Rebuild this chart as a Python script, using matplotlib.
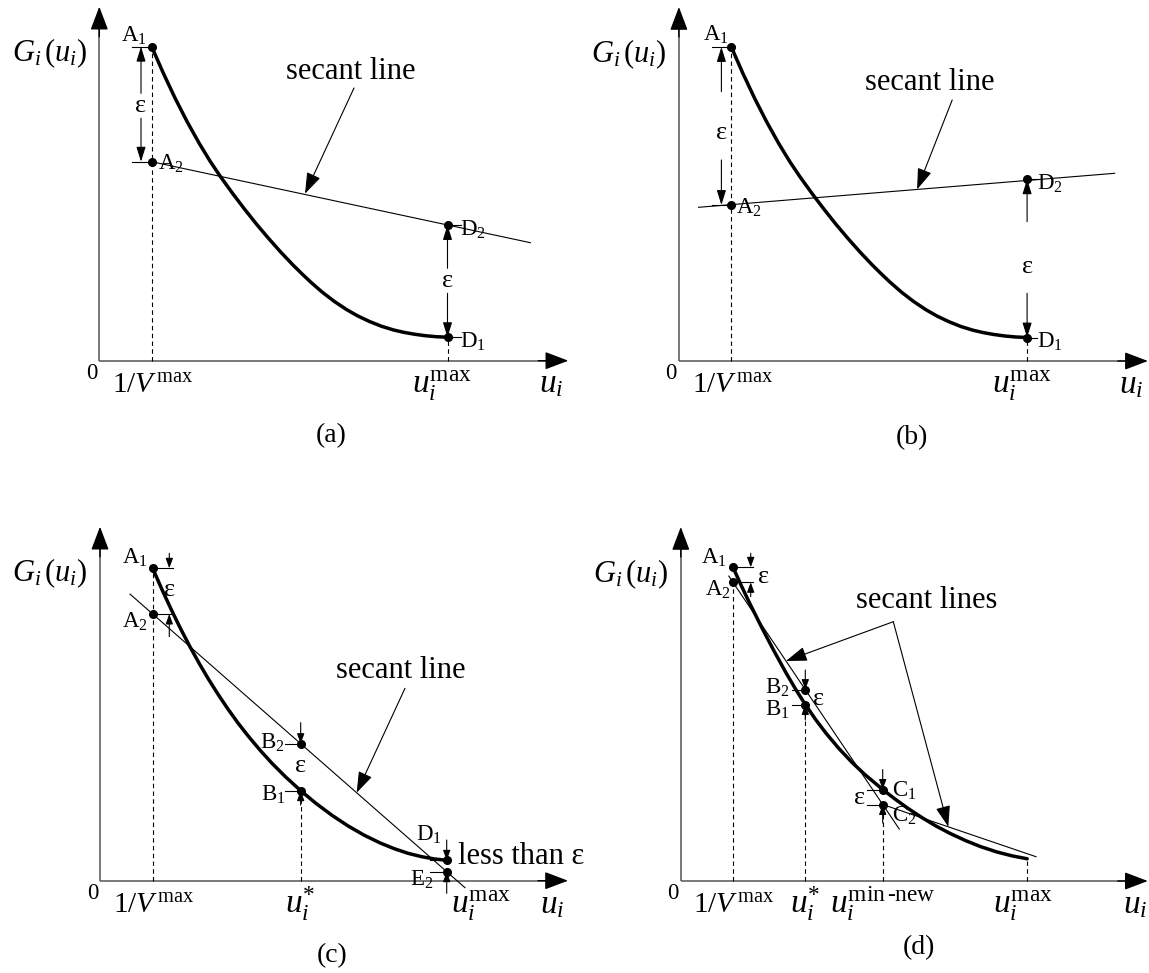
import matplotlib
matplotlib.use("Agg")
import matplotlib.pyplot as plt

plt.rcParams["font.family"] = ["Liberation Serif", "DejaVu Serif"]
plt.rcParams["mathtext.fontset"] = "custom"
plt.rcParams["mathtext.rm"] = "Liberation Serif"
plt.rcParams["mathtext.it"] = "Liberation Serif:italic"
plt.rcParams["mathtext.bf"] = "Liberation Serif:bold"

# ---- data, in reference pixels measured from each panel's origin ----
# cost curve G_i(u_i), panels (a) and (b)
ab_u = [52.4, 64, 76, 88, 100, 111, 121, 133, 145, 157, 169, 181, 193, 202, 211.4,
        223, 235, 247, 258, 270, 282, 294, 304.3, 315, 326, 337, 348.2]
ab_g = [314, 287.6, 262.1, 238.7, 217.2, 199.2, 184.3, 167.7, 151.9, 136.8, 122.6, 109.1, 96.4, 87.5, 78.6,
        68.5, 59.3, 51.3, 45.0, 39.3, 34.5, 30.8, 28.4, 26.5, 25.0, 24.0, 23.5]
# panel (c)
c_u = [52.7, 62, 71.4, 80, 90, 100, 108.4, 118, 128, 138, 148.4, 160, 172, 185.4,
       200.7, 216, 232, 248, 264, 280, 294, 308, 321.7, 334, 346.7]
c_g = [312.4, 291.1, 270.8, 253.2, 233.9, 215.9, 201.7, 186.5, 171.6, 157.7, 144.4, 130.6, 117.4, 104.0,
       90.0, 77.3, 65.4, 54.8, 45.6, 37.8, 32.1, 27.4, 24.0, 21.8, 20.4]
# panel (d)
d_u = [52.2, 61, 69, 81, 93, 105.2, 115, 124.5, 135, 145.2, 158, 171, 183.9, 201.9,
       214, 227.2, 241, 255, 269.2, 285, 300, 316.2, 331, 346.4]
d_g = [313.7, 294.3, 277.5, 253.4, 230.4, 208.2, 191.5, 176.5, 161.2, 147.8, 132.6, 118.8, 106.6, 91.5,
       82.1, 72.6, 63.5, 55.1, 47.6, 40.3, 34.3, 29.0, 25.2, 22.2]

# secant lines
a_sec_u, a_sec_g = [52.4, 431.1], [199.0, 118.0]
b_sec_u, b_sec_g = [19.6, 435.8], [153.7, 187.7]
c_sec_u, c_sec_g = [30.0, 365.0], [286.6, -7.0]
d_sec1_u, d_sec1_g = [48.0, 218.5], [304.9, 51.9]
d_sec2_u, d_sec2_g = [201.9, 355.2], [76.5, 24.3]

# marked points
a_names = ["A1", "A2", "D2", "D1"]
a_pu = [52.4, 52.4, 348.2, 348.2]
a_pg = [314.0, 199.0, 135.7, 23.5]
b_names = ["A1", "A2", "D2", "D1"]
b_pu = [52.4, 52.4, 348.2, 348.2]
b_pg = [314.0, 156.0, 181.7, 23.5]
c_names = ["A1", "A2", "B2", "B1", "D1", "E2"]
c_pu = [52.7, 52.7, 200.7, 200.7, 346.7, 346.7]
c_pg = [312.4, 266.7, 137.0, 90.0, 20.4, 9.0]
d_names = ["A1", "A2", "B2", "B1", "C1", "C2"]
d_pu = [52.2, 52.2, 124.5, 124.5, 201.9, 201.9]
d_pg = [313.7, 298.7, 191.4, 176.5, 91.5, 76.5]

W, H = 1149, 973
L, R, T, B = 110, 480, 370, 95
AXC = "#555555"
EPS = "\u03b5"

fig = plt.figure(figsize=(W / 100, H / 100), dpi=100)


def panel(ox, oy):
    ax = fig.add_axes([(ox - L) / W, 1 - (oy + B) / H, (L + R) / W, (T + B) / H])
    ax.set_xlim(-L, R)
    ax.set_ylim(-B, T)
    ax.axis("off")
    return ax


def arrow(ax, p0, p1, hl, hw, lw=0.8):
    ax.annotate("", xy=p1, xytext=p0, annotation_clip=False,
                arrowprops=dict(arrowstyle=f"-|>,head_length={hl},head_width={hw}",
                                mutation_scale=10, color="k", lw=lw,
                                shrinkA=0, shrinkB=0))


def frame(ax, xtip, ytip):
    ax.plot([0, xtip - 15], [0, 0], color=AXC, lw=1.1, solid_capstyle="butt")
    ax.plot([0, 0], [0, ytip - 15], color=AXC, lw=1.1, solid_capstyle="butt")
    arrow(ax, (xtip - 30, 0), (xtip, 0), 1.45, 0.55, lw=1.0)
    arrow(ax, (0, ytip - 30), (0, ytip), 1.45, 0.55, lw=1.0)


def drop(ax, u, g):
    ax.plot([u, u], [0, g], color="k", lw=0.8, dashes=(4, 3))


def tick(ax, u0, u1, g):
    ax.plot([u0, u1], [g, g], color="k", lw=0.8)


def lab(ax, x, y, name, ha):
    ax.text(x, y, f"$\\mathrm{{{name[0]}}}_{name[1]}$", fontsize=16.5, ha=ha, va="center")


def eps(ax, x, y, size=19):
    ax.text(x, y, EPS, fontsize=size, ha="center", va="center")


def curve(ax, u, g):
    ax.plot(u, g, color="k", lw=2.5, solid_capstyle="round", solid_joinstyle="round")


def common(ax, caption, capx, capy, xtip=469, ux=452):
    frame(ax, xtip, 354)
    ax.text(-50, 299, "$G_i\\,(u_i)$", fontsize=22, ha="center", va="baseline")
    ax.text(-7.6, -18, "0", fontsize=16.5, ha="center", va="baseline")
    ax.text(ux, -32, "$u_i$", fontsize=24, ha="center", va="baseline")
    ax.text(capx, capy, caption, fontsize=20, ha="center", va="center")


def vmax_label(ax, u):
    ax.text(u + 1, -32, r"$1/V^{\,\mathrm{max}}$", fontsize=21, ha="center", va="baseline")


# ---------------- (a) ----------------
ax = panel(99.3, 360.7)
common(ax, "(a)", 231.7, -75)
drop(ax, a_pu[0], a_pg[0])
drop(ax, a_pu[3], a_pg[3])
ax.plot(a_sec_u, a_sec_g, color="k", lw=0.8)
curve(ax, ab_u, ab_g)
for i in (0, 1):
    tick(ax, 32.7, a_pu[i], a_pg[i])
for i in (2, 3):
    tick(ax, a_pu[i], a_pu[i] + 13, a_pg[i])
arrow(ax, (41.7, 267.4), (41.7, a_pg[0]), 0.9, 0.28)
arrow(ax, (41.7, 242.4), (41.7, a_pg[1]), 0.9, 0.28)
arrow(ax, (a_pu[2], 92.4), (a_pu[2], a_pg[2]), 0.9, 0.28)
arrow(ax, (a_pu[3], 67.4), (a_pu[3], a_pg[3]), 0.9, 0.28)
eps(ax, 41.7, 255)
eps(ax, a_pu[2], 80)
ax.plot(a_pu, a_pg, "o", color="k", ms=5.5)
lab(ax, 47, 325, a_names[0], "right")
lab(ax, 59, 197, a_names[1], "left")
lab(ax, 361, 131, a_names[2], "left")
lab(ax, 361, 19, a_names[3], "left")
ax.text(251.7, 289, "secant line", fontsize=22, ha="center", va="center")
arrow(ax, (254.7, 272.7), (205.7, 167), 1.3, 0.45)
vmax_label(ax, a_pu[0])
ax.text(a_pu[3] - 5.5, -32, r"$u_i^{\mathrm{max}}$", fontsize=24, ha="center", va="baseline")

# ---------------- (b) ----------------
ax = panel(678.9, 361)
common(ax, "(b)", 232.6, -76.5)
drop(ax, b_pu[0], b_pg[0])
drop(ax, b_pu[3], b_pg[3])
ax.plot(b_sec_u, b_sec_g, color="k", lw=0.8)
curve(ax, ab_u, ab_g)
for i in (0, 1):
    tick(ax, 33, b_pu[i], b_pg[i])
for i in (2, 3):
    tick(ax, b_pu[i], b_pu[i] + 10, b_pg[i])
arrow(ax, (42.5, 269.3), (42.5, b_pg[0]), 0.9, 0.28)
arrow(ax, (42.5, 201), (42.5, b_pg[1]), 0.9, 0.28)
arrow(ax, (b_pu[2], 139.3), (b_pu[2], b_pg[2]), 0.9, 0.28)
arrow(ax, (b_pu[3], 67.7), (b_pu[3], b_pg[3]), 0.9, 0.28)
eps(ax, 42.5, 227.7)
eps(ax, b_pu[2], 94.3)
ax.plot(b_pu, b_pg, "o", color="k", ms=5.5)
lab(ax, 50, 326, b_names[0], "right")
lab(ax, 57, 153, b_names[1], "left")
lab(ax, 358, 177, b_names[2], "left")
lab(ax, 358, 19.3, b_names[3], "left")
ax.text(251, 278, "secant line", fontsize=22, ha="center", va="center")
arrow(ax, (273.3, 261), (238.2, 171.6), 1.3, 0.45)
vmax_label(ax, b_pu[0])
ax.text(b_pu[3] - 5.5, -32, r"$u_i^{\mathrm{max}}$", fontsize=24, ha="center", va="baseline")

# ---------------- (c) ----------------
ax = panel(100, 880.7)
common(ax, "(c)", 232, -75, xtip=468)
drop(ax, c_pu[0], c_pg[0])
drop(ax, c_pu[3], c_pg[3])
ax.plot(c_sec_u, c_sec_g, color="k", lw=0.8)
curve(ax, c_u, c_g)
tick(ax, c_pu[0], c_pu[0] + 20, c_pg[0])
tick(ax, c_pu[1], c_pu[1] + 20, c_pg[1])
for i in (2, 3):
    tick(ax, c_pu[i] - 15.7, c_pu[i], c_pg[i])
for i in (4, 5):
    tick(ax, c_pu[i] - 16.7, c_pu[i], c_pg[i])
arrow(ax, (69.3, 327.4), (69.3, c_pg[0]), 0.6, 0.22)
arrow(ax, (69.3, 244), (69.3, c_pg[1]), 0.6, 0.22)
arrow(ax, (c_pu[2], 158), (c_pu[2], c_pg[2]), 0.6, 0.22)
arrow(ax, (c_pu[3], 75.5), (c_pu[3], c_pg[3]), 0.6, 0.22)
arrow(ax, (c_pu[4], 40.7), (c_pu[4], c_pg[4]), 0.6, 0.22)
arrow(ax, (c_pu[5], -12.6), (c_pu[5], c_pg[5]), 0.6, 0.22)
eps(ax, 69.3, 290.7)
eps(ax, c_pu[2], 115)
ax.text(358.3, 24, "less than " + EPS, fontsize=22, ha="left", va="center")
ax.plot(c_pu, c_pg, "o", color="k", ms=5.5)
lab(ax, 48, 323, c_names[0], "right")
lab(ax, 48, 259, c_names[1], "right")
lab(ax, 185, 137.4, c_names[2], "right")
lab(ax, 185, 86, c_names[3], "right")
lab(ax, 329, 46, c_names[4], "center")
lab(ax, 333, 0.7, c_names[5], "right")
ax.text(301, 210, "secant line", fontsize=22, ha="center", va="center")
arrow(ax, (305, 192.4), (256.7, 88), 1.3, 0.45)
vmax_label(ax, c_pu[0])
ax.text(c_pu[2], -32, r"$u_i^{*}$", fontsize=24, ha="center", va="baseline")
ax.text(351, -32, r"$u_i^{\mathrm{max}}$", fontsize=24, ha="left", va="baseline")

# ---------------- (d) ----------------
ax = panel(680.8, 881)
common(ax, "(d)", 238.2, -67, xtip=467, ux=454)
drop(ax, d_pu[1], d_pg[1])
drop(ax, d_pu[3], d_pg[3])
drop(ax, d_pu[5], d_pg[5])
drop(ax, d_u[-1], d_g[-1])
ax.plot(d_sec1_u, d_sec1_g, color="k", lw=0.8)
ax.plot(d_sec2_u, d_sec2_g, color="k", lw=0.8)
curve(ax, d_u, d_g)
tick(ax, d_pu[0], d_pu[0] + 20.3, d_pg[0])
tick(ax, d_pu[1], d_pu[1] + 20.3, d_pg[1])
for i in (2, 3):
    tick(ax, d_pu[i] - 13.6, d_pu[i], d_pg[i])
for i in (4, 5):
    tick(ax, d_pu[i] - 16, d_pu[i], d_pg[i])
arrow(ax, (69.9, 327.7), (69.9, d_pg[0]), 0.6, 0.22)
arrow(ax, (69.9, 284.3), (69.9, d_pg[1]), 0.6, 0.22)
arrow(ax, (d_pu[2], 211), (d_pu[2], d_pg[2]), 0.6, 0.22)
arrow(ax, (d_pu[3], 161), (d_pu[3], d_pg[3]), 0.6, 0.22)
arrow(ax, (d_pu[4], 111.5), (d_pu[4], d_pg[4]), 0.6, 0.22)
arrow(ax, (d_pu[5], 58), (d_pu[5], d_pg[5]), 0.6, 0.22)
eps(ax, 82.5, 304.3)
eps(ax, 137.5, 181.7)
eps(ax, 178.5, 83.5)
ax.plot(d_pu, d_pg, "o", color="k", ms=5.5)
lab(ax, 46, 322.7, d_names[0], "right")
lab(ax, 50, 291, d_names[1], "right")
lab(ax, 109, 193, d_names[2], "right")
lab(ax, 109, 171, d_names[3], "right")
lab(ax, 210.9, 90, d_names[4], "left")
lab(ax, 210.9, 65, d_names[5], "left")
ax.text(245.9, 281, "secant lines", fontsize=22, ha="center", va="center")
arrow(ax, (212.5, 259.3), (105.2, 220.0), 1.3, 0.45)
arrow(ax, (212.5, 259.3), (267.5, 54.2), 1.3, 0.45)
vmax_label(ax, d_pu[0])
ax.text(d_pu[2], -32, r"$u_i^{*}$", fontsize=24, ha="center", va="baseline")
ax.text(d_pu[4], -32, r"$u_i^{\mathrm{min\,\text{-}new}}$", fontsize=24, ha="center", va="baseline")
ax.text(d_u[-1] - 4, -32, r"$u_i^{\mathrm{max}}$", fontsize=24, ha="center", va="baseline")

fig.savefig("out.png", dpi=100)
